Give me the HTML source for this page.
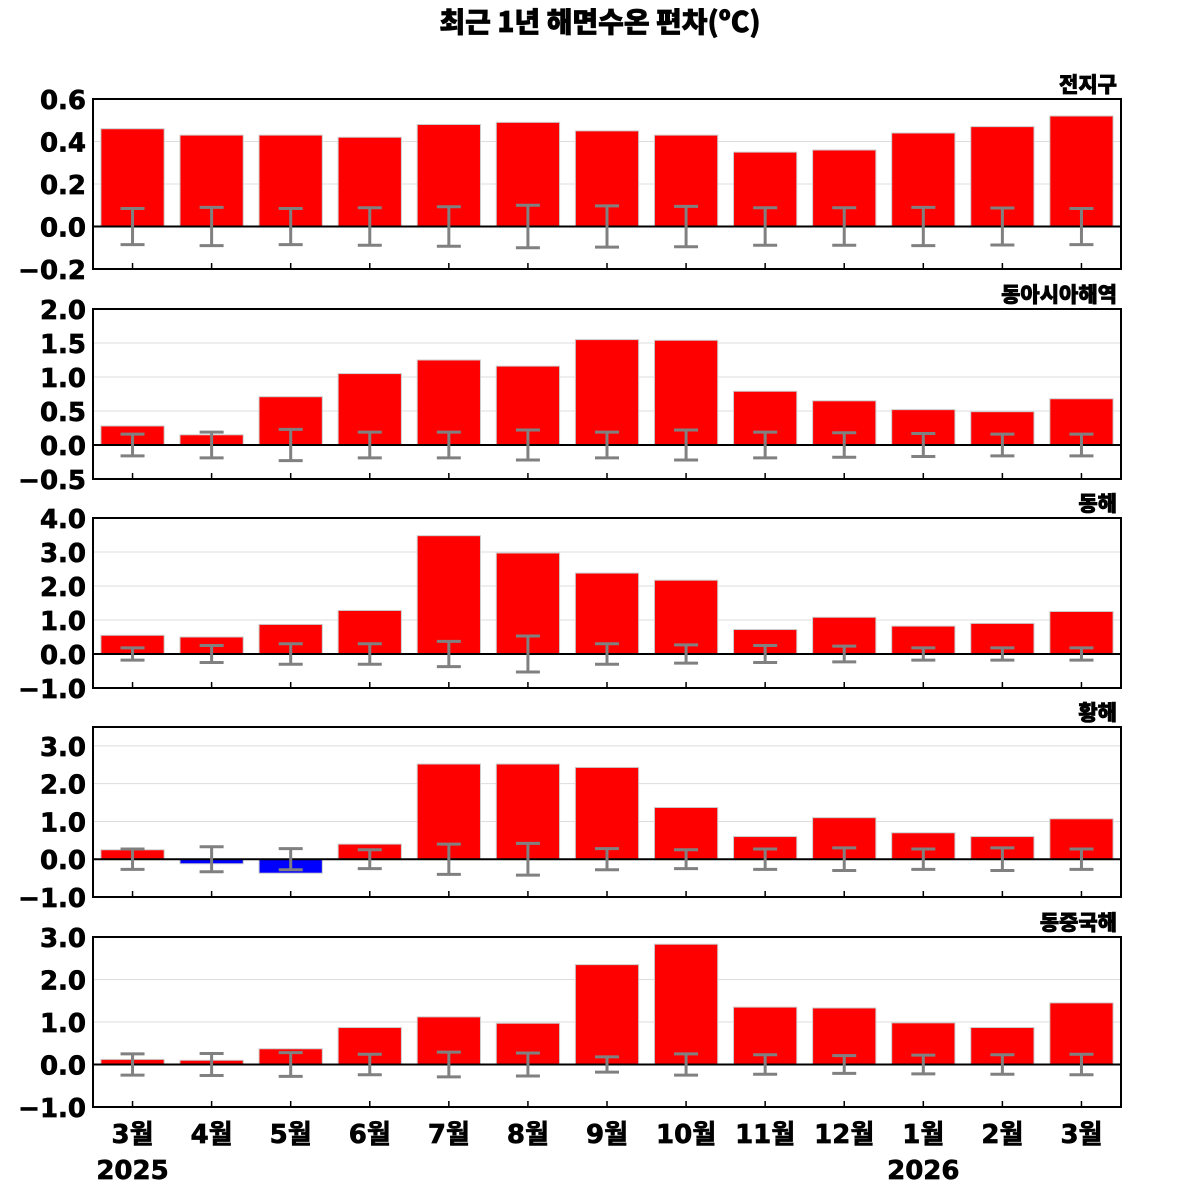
<!DOCTYPE html>
<html><head><meta charset="utf-8"><style>
html,body{margin:0;background:#fff;overflow:hidden}
svg{display:block}
svg text{font-family:"DejaVu Sans","Liberation Sans","Noto Sans CJK KR",sans-serif;font-weight:bold;stroke:#000;stroke-width:0.7}
</style></head><body>
<svg id="c" width="1200" height="1200" xmlns="http://www.w3.org/2000/svg">
<text x="600" y="32" text-anchor="middle" font-size="28" style="font-family:'Noto Sans CJK KR',sans-serif;font-weight:900">최근 1년 해면수온 편차(ºC)</text>
</svg>
<script>
const categories = ["3월","4월","5월","6월","7월","8월","9월","10월","11월","12월","1월","2월","3월"];
const panelNames = ["전지구","동아시아해역","동해","황해","동중국해"];
const globalVals = [0.46,0.43,0.43,0.42,0.48,0.49,0.45,0.43,0.35,0.36,0.44,0.47,0.52];
const globalErr = [0.085,0.09,0.085,0.088,0.093,0.1,0.097,0.095,0.088,0.088,0.09,0.087,0.085];
const eastAsiaVals = [0.28,0.15,0.71,1.05,1.25,1.16,1.55,1.54,0.79,0.65,0.52,0.49,0.68];
const eastAsiaErr = [0.16,0.19,0.23,0.19,0.19,0.22,0.19,0.22,0.19,0.18,0.17,0.16,0.16];
const eastSeaVals = [0.55,0.5,0.87,1.28,3.48,2.97,2.38,2.17,0.72,1.08,0.82,0.9,1.25];
const eastSeaErr = [0.18,0.25,0.3,0.3,0.37,0.53,0.3,0.27,0.25,0.23,0.18,0.18,0.18];
const yellowSeaVals = [0.25,-0.12,-0.37,0.4,2.52,2.52,2.43,1.37,0.6,1.1,0.7,0.6,1.07];
const yellowSeaErr = [0.27,0.33,0.28,0.25,0.4,0.42,0.28,0.25,0.27,0.3,0.27,0.3,0.27];
const ecsVals = [0.12,0.1,0.37,0.87,1.12,0.97,2.35,2.83,1.35,1.33,0.98,0.87,1.45];
const ecsErr = [0.25,0.26,0.28,0.24,0.29,0.27,0.18,0.25,0.23,0.21,0.22,0.23,0.24];
const yMins = [-0.2,-0.5,-1,-1,-1];
const yMaxs = [0.6,2.0,4.0,3.5,3.0];
const tickVals = [[-0.2,0,0.2,0.4,0.6],[-0.5,0,0.5,1,1.5,2],[-1,0,1,2,3,4],[-1,0,1,2,3],[-1,0,1,2,3]];
const tickLabels = [["−0.2","0.0","0.2","0.4","0.6"],["−0.5","0.0","0.5","1.0","1.5","2.0"],["−1.0","0.0","1.0","2.0","3.0","4.0"],["−1.0","0.0","1.0","2.0","3.0"],["−1.0","0.0","1.0","2.0","3.0"]];
const yearLabels = ["2025","2026"];
const yearIdx = [0,10];

const vals=[globalVals,eastAsiaVals,eastSeaVals,yellowSeaVals,ecsVals];
const errs=[globalErr,eastAsiaErr,eastSeaErr,yellowSeaErr,ecsErr];
const svg=document.getElementById('c');
const NS="http://www.w3.org/2000/svg";
function mk(t,a,p){const e=document.createElementNS(NS,t);for(const k in a)e.setAttribute(k,a[k]);(p||svg).appendChild(e);return e;}
const X0=93,X1=1121,slot=(X1-X0)/categories.length;
const panelTops=[99,309,518,727,937],PH=170;
function xc(i){return X0+slot*(i+0.5);}
panelNames.forEach((nm,p)=>{
  const top=panelTops[p],bot=top+PH,mn=yMins[p],mx=yMaxs[p];
  const y=v=>bot-(v-mn)/(mx-mn)*PH;
  const g=mk('g',{});
  
  
  tickVals[p].forEach((t,k)=>{
    if(t!==0&&t!==mn&&t!==mx){const gl=mk('line',{x1:X0,x2:X1,y1:y(t),y2:y(t),stroke:'#ddd','stroke-width':1},g);
      }
    const tx=mk('text',{x:86,y:y(t)+10,'text-anchor':'end','font-size':26},g);
    
    tx.textContent=tickLabels[p][k];
  });
  const bw=slot*0.8;
  vals[p].forEach((v,i)=>{
    const r=mk('rect',{x:xc(i)-bw/2,y:Math.min(y(v),y(0)),width:bw,height:Math.abs(y(v)-y(0)),fill:v>=0?'#ff0000':'#0000ff',stroke:'#ccc','stroke-width':1},g);
    
  });
  const zl=mk('line',{x1:X0,x2:X1,y1:y(0),y2:y(0),stroke:'#000','stroke-width':2},g);
  
  errs[p].forEach((e,i)=>{
    const eg=mk('g',{stroke:'#808080','stroke-width':3},g);
    
    mk('line',{x1:xc(i),x2:xc(i),y1:y(e),y2:y(-e)},eg);
    mk('line',{x1:xc(i)-12,x2:xc(i)+12,y1:y(e),y2:y(e)},eg);
    mk('line',{x1:xc(i)-12,x2:xc(i)+12,y1:y(-e),y2:y(-e)},eg);
    mk('line',{x1:xc(i),x2:xc(i),y1:bot,y2:bot-6,stroke:'#000','stroke-width':1.5},g);
  });
  const fr=mk('rect',{x:X0,y:top,width:X1-X0,height:PH,fill:'none',stroke:'#000','stroke-width':2},g);
  
  const pt=mk('text',{x:1117,y:top-7,'text-anchor':'end','font-size':21,style:"font-family:'Noto Sans CJK KR',sans-serif;font-weight:900"},g);
  
  pt.textContent=nm;
});
categories.forEach((c,i)=>{
  const t=mk('text',{x:xc(i),y:1143,'text-anchor':'middle','font-size':26,style:"font-family:'DejaVu Sans','Noto Sans CJK KR',sans-serif;font-weight:bold"});
  
  t.textContent=c;
});
yearLabels.forEach((yl,k)=>{
  const t=mk('text',{x:xc(yearIdx[k]),y:1179,'text-anchor':'middle','font-size':26});
  
  t.textContent=yl;
});
</script>
</body></html>
